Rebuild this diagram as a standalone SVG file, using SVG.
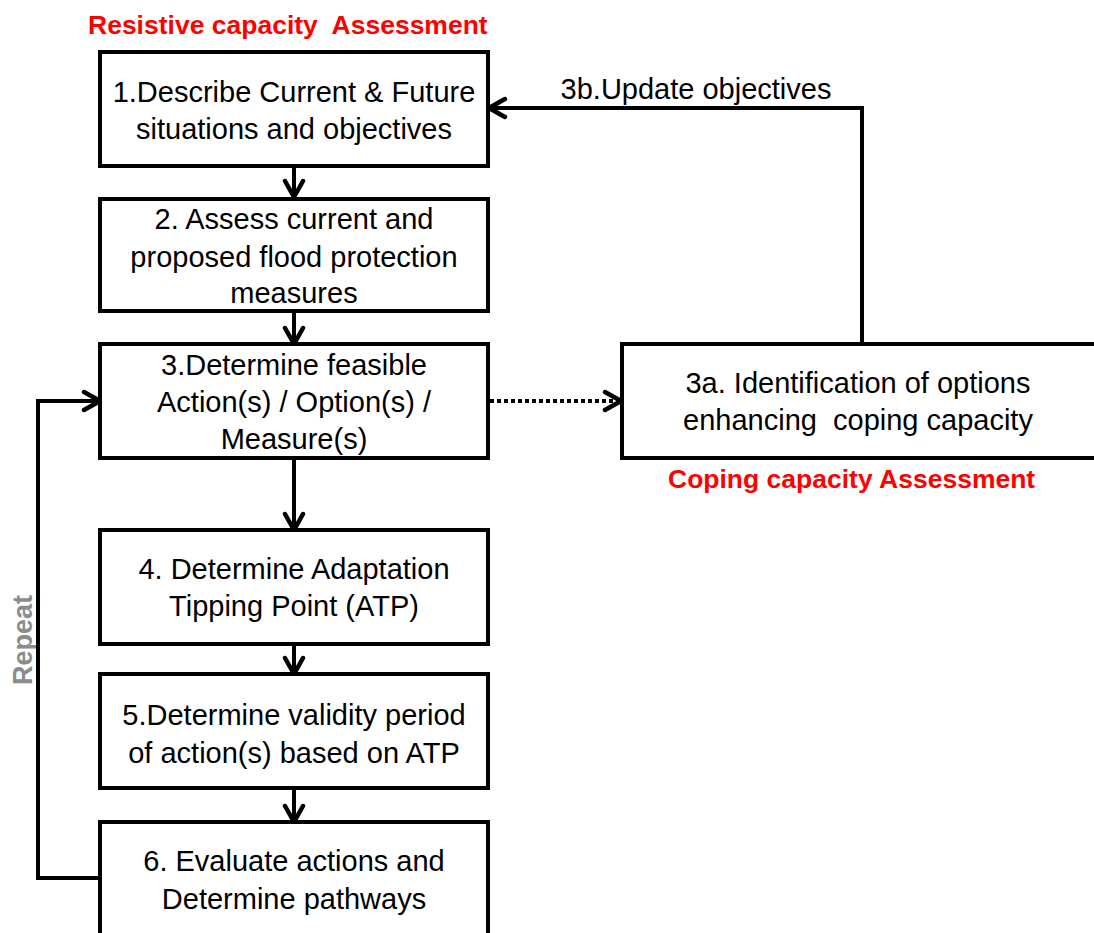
<svg xmlns="http://www.w3.org/2000/svg" width="1094" height="933" viewBox="0 0 1094 933">
<defs>
<style>
.box{fill:#fff;stroke:#000;stroke-width:4}
.t{font-family:"Liberation Sans",Arial,sans-serif;font-size:29px;fill:#000;text-anchor:middle;white-space:pre}
.red{font-family:"Liberation Sans",Arial,sans-serif;font-weight:bold;fill:#ff0000;white-space:pre}
.conn{fill:none;stroke:#000;stroke-width:4}
.dot{fill:none;stroke:#000;stroke-width:4;stroke-dasharray:4 3}
</style>
<marker id="ah" viewBox="0 0 22 24" refX="19" refY="12" markerWidth="22" markerHeight="24" markerUnits="userSpaceOnUse" orient="auto">
<path d="M3,3 L19,12 L3,21" fill="none" stroke="#000" stroke-width="4.5" stroke-linecap="round" stroke-linejoin="miter"/>
</marker>
</defs>
<rect width="1094" height="933" fill="#fff"/>

<text class="red" x="88" y="34" style="font-size:26.5px" xml:space="preserve">Resistive capacity  Assessment</text>
<text class="red" x="668" y="488" style="font-size:26.5px">Coping capacity Assessment</text>
<text x="32" y="640" transform="rotate(-90 32 640)" style="font-family:'Liberation Sans',Arial,sans-serif;font-size:27px;font-weight:bold;fill:#8c8c8c;text-anchor:middle">Repeat</text>

<g id="connectors">
<line class="conn" x1="294" y1="166" x2="294" y2="197" marker-end="url(#ah)"/>
<line class="conn" x1="294" y1="311" x2="294" y2="344" marker-end="url(#ah)"/>
<line class="conn" x1="294" y1="458" x2="294" y2="530" marker-end="url(#ah)"/>
<line class="conn" x1="294" y1="644" x2="294" y2="674" marker-end="url(#ah)"/>
<line class="conn" x1="294" y1="788" x2="294" y2="822" marker-end="url(#ah)"/>
<polyline class="conn" points="100,878 38,878 38,401 100,401" marker-end="url(#ah)"/>
<line class="dot" x1="490" y1="401" x2="621" y2="401" marker-end="url(#ah)"/>
<polyline class="conn" points="862,344 862,108 489,108" marker-end="url(#ah)"/>
<text class="t" x="696" y="99">3b.Update objectives</text>
</g>

<g id="n1">
<rect class="box" x="100" y="52" width="388" height="114"/>
<text class="t" x="294" y="102">1.Describe Current &amp; Future</text>
<text class="t" x="294" y="139">situations and objectives</text>
</g>
<g id="n2">
<rect class="box" x="100" y="199" width="388" height="112"/>
<text class="t" x="294" y="229">2. Assess current and</text>
<text class="t" x="294" y="267">proposed flood protection</text>
<text class="t" x="294" y="303">measures</text>
</g>
<g id="n3">
<rect class="box" x="100" y="344" width="388" height="114"/>
<text class="t" x="294" y="375">3.Determine feasible</text>
<text class="t" x="294" y="412">Action(s) / Option(s) /</text>
<text class="t" x="294" y="449">Measure(s)</text>
</g>
<g id="n4">
<rect class="box" x="100" y="530" width="388" height="114"/>
<text class="t" x="294" y="579">4. Determine Adaptation</text>
<text class="t" x="294" y="616">Tipping Point (ATP)</text>
</g>
<g id="n5">
<rect class="box" x="100" y="674" width="388" height="114"/>
<text class="t" x="294" y="725">5.Determine validity period</text>
<text class="t" x="294" y="763">of action(s) based on ATP</text>
</g>
<g id="n6">
<rect class="box" x="100" y="822" width="388" height="130"/>
<text class="t" x="294" y="871">6. Evaluate actions and</text>
<text class="t" x="294" y="909">Determine pathways</text>
</g>
<g id="n3a">
<rect class="box" x="622" y="344" width="490" height="114"/>
<text class="t" x="858" y="393">3a. Identification of options</text>
<text class="t" x="858" y="430" xml:space="preserve">enhancing  coping capacity</text>
</g>
</svg>
